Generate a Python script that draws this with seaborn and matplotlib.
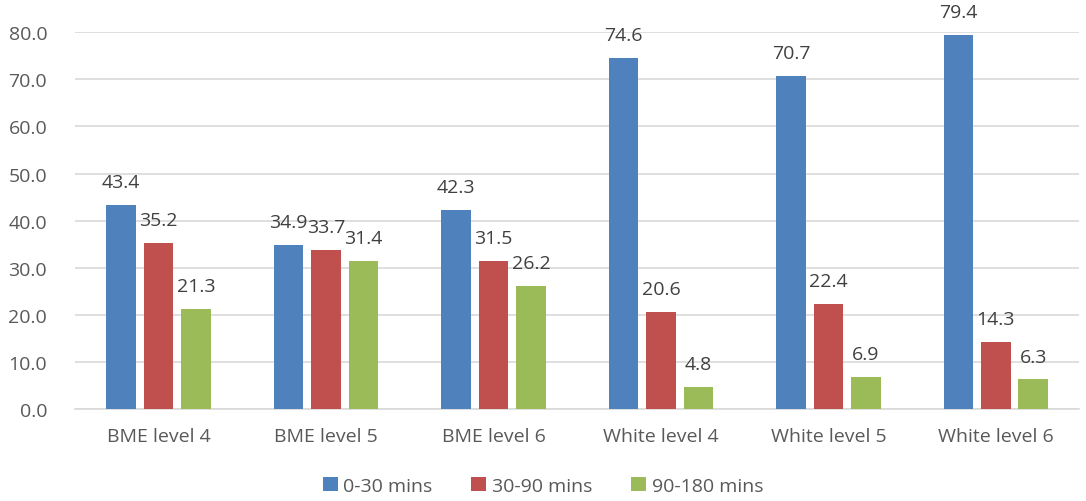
import seaborn as sns
import matplotlib.pyplot as plt
import pandas as pd

# data
groups = ['BME level 4', 'BME level 5', 'BME level 6', 'White level 4', 'White level 5', 'White level 6']
series = ['0-30 mins', '30-90 mins', '90-180 mins']
short_wait = [43.4, 34.9, 42.3, 74.6, 70.7, 79.4]
mid_wait = [35.2, 33.7, 31.5, 20.6, 22.4, 14.3]
long_wait = [21.3, 31.4, 26.2, 4.8, 6.9, 6.3]
colors = ['#4F81BD', '#C0504D', '#9BBB59']

rows = []
for s, vals in zip(series, [short_wait, mid_wait, long_wait]):
    for g, v in zip(groups, vals):
        rows.append({'Group': g, 'Duration': s, 'Percent': v})
df = pd.DataFrame(rows)

sns.set_style('white')
plt.rcParams['font.family'] = ['Open Sans', 'DejaVu Sans']
text_color = '#595959'
grid_color = '#D9D9D9'

fig = plt.figure(figsize=(10.86, 5.02), dpi=100)
ax = fig.add_axes([0.069, 0.183, 0.925, 0.751])

sns.barplot(data=df, x='Group', y='Percent', hue='Duration',
            palette=colors, saturation=1, width=0.67, linewidth=0,
            ax=ax, zorder=3)

# shrink each bar a bit to leave the white gaps between bars
for p in ax.patches:
    w = p.get_width()
    if w == 0:
        continue
    new_w = w * 0.79
    p.set_x(p.get_x() + (w - new_w) / 2)
    p.set_width(new_w)

for container in ax.containers:
    ax.bar_label(container, fmt='%.1f', padding=10, fontsize=14,
                 color='#404040', clip_on=False)

ax.set_ylim(0, 80)
ax.set_yticks(range(0, 81, 10))
ax.set_yticklabels([f'{t:.1f}' for t in range(0, 81, 10)])
ax.set_xlim(-0.5, len(groups) - 0.5)
ax.yaxis.grid(True, color=grid_color, linewidth=1.2, zorder=0)
ax.set_axisbelow(True)
ax.tick_params(axis='both', length=0, labelsize=14, labelcolor=text_color)
ax.tick_params(axis='x', pad=13)
ax.tick_params(axis='y', pad=20)
ax.set_xlabel('')
ax.set_ylabel('')
for side in ['top', 'right', 'left']:
    ax.spines[side].set_visible(False)
ax.spines['bottom'].set_color(grid_color)
ax.spines['bottom'].set_linewidth(1.2)

handles, labels = ax.get_legend_handles_labels()
ax.get_legend().remove()
fig.legend(handles, labels, loc='lower center', ncol=3, frameon=False,
           bbox_to_anchor=(0.5, -0.022), fontsize=14, labelcolor=text_color,
           handlelength=0.75, handleheight=0.75, handletextpad=0.3, columnspacing=2.0)

plt.savefig('out.png', dpi=100)
plt.close()
